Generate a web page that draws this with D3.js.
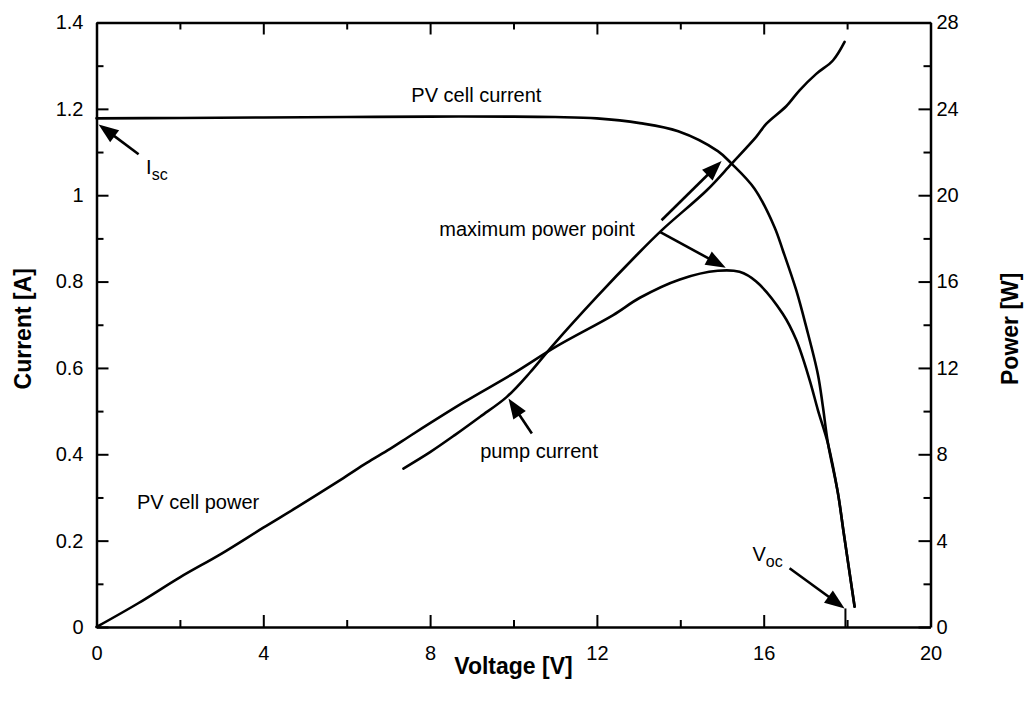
<!DOCTYPE html>
<html>
<head>
<meta charset="utf-8">
<script src="https://cdn.jsdelivr.net/npm/d3@7"></script>
<style>
  html, body { margin: 0; padding: 0; background: #fff; }
  svg { display: block; font-family: "Liberation Sans", Arial, Helvetica, sans-serif; }
</style>
</head>
<body>
<svg id="chart" width="1027" height="707"></svg>
<script>
// ---------- data ----------
// PV cell current (left axis, A) vs voltage (V)
const voltageCell = [0, 2, 4, 6, 8, 10, 11, 12, 13.03, 13.95, 14.9, 15.23, 15.78, 16.26, 16.46, 16.78, 17.02, 17.3, 17.42, 17.54, 17.78, 17.92, 18.18];
const currentCell = [1.178, 1.179, 1.18, 1.181, 1.182, 1.182, 1.181, 1.178, 1.167, 1.148, 1.102, 1.073, 1.015, 0.926, 0.872, 0.78, 0.695, 0.585, 0.51, 0.426, 0.31, 0.217, 0.047];

// PV cell power (right axis, W) vs voltage (V)
const voltagePower = [0, 1.0, 2.0, 3.0, 4.0, 4.81, 5.92, 6.48, 7.04, 7.6, 8.8, 10.0, 11.03, 12.39, 13.03, 13.99, 14.9, 15.42, 15.82, 16.46, 16.78, 17.1, 17.3, 17.54, 17.78, 17.92, 18.18];
const powerCell = [0, 1.1, 2.3, 3.4, 4.6, 5.55, 6.9, 7.6, 8.25, 8.95, 10.4, 11.75, 13.0, 14.45, 15.25, 16.1, 16.5, 16.45, 16.0, 14.5, 13.3, 11.45, 10.05, 8.5, 6.2, 4.34, 0.94];

// pump current (left axis, A) vs voltage (V)
const voltagePump = [7.36, 8.0, 8.6, 9.2, 9.84, 10.4, 10.95, 11.99, 12.95, 13.59, 14.63, 15.23, 15.82, 16.06, 16.54, 16.86, 17.26, 17.66, 17.94];
const currentPump = [0.367, 0.405, 0.445, 0.487, 0.533, 0.59, 0.653, 0.764, 0.861, 0.922, 1.011, 1.073, 1.135, 1.165, 1.206, 1.243, 1.281, 1.312, 1.355];

// ticks
const xTicks = [0, 4, 8, 12, 16, 20];
const xMinorTicks = [2, 6, 10, 14, 18];
const yLeftTicks = [0, 0.2, 0.4, 0.6, 0.8, 1, 1.2, 1.4];
const yLeftMinorTicks = [0.1, 0.3, 0.5, 0.7, 0.9, 1.1, 1.3];
const yRightTicks = [0, 4, 8, 12, 16, 20, 24, 28];
const yRightMinorTicks = [2, 6, 10, 14, 18, 22, 26];

// axis titles
const xTitle = "Voltage [V]";
const yLeftTitle = "Current [A]";
const yRightTitle = "Power [W]";

// annotation labels, in data units (voltage, current)
const labelText = ["PV cell current", "maximum power point", "pump current", "PV cell power"];
const labelV = [7.55, 8.22, 9.2, 0.97];
const labelI = [1.215, 0.905, 0.391, 0.273];

// arrows: tail (V, I) -> tip (V, I)
const arrowTailV = [1.01, 13.55, 13.51, 10.44, 16.62];
const arrowTailI = [1.095, 0.942, 0.915, 0.448, 0.136];
const arrowTipV = [0.05, 14.99, 15.09, 9.88, 17.94];
const arrowTipI = [1.164, 1.079, 0.832, 0.529, 0.043];

// ---------- layout ----------
const svg = d3.select("#chart");
const L = 96.5, R = 930.5, T = 22.5, B = 627;

const x = d3.scaleLinear().domain([0, 20]).range([L, R]);
const yL = d3.scaleLinear().domain([0, 1.4]).range([B, T]);
const yR = d3.scaleLinear().domain([0, 28]).range([B, T]);

const fmtLeft = d => String(+d.toFixed(1));

function styleAxis(g) {
  g.select(".domain").attr("stroke", "#000").attr("stroke-width", 2.5);
  g.selectAll(".tick line").attr("stroke", "#000").attr("stroke-width", 2);
  g.selectAll(".tick text").attr("fill", "#000").attr("font-size", 20)
    .attr("font-family", "'Liberation Sans', Arial, Helvetica, sans-serif");
}
function minorStyle(g) {
  g.select(".domain").remove();
  g.selectAll(".tick line").attr("stroke", "#000").attr("stroke-width", 2);
}

// bottom axis
const gB = svg.append("g").attr("transform", `translate(0,${B})`)
  .call(d3.axisBottom(x).tickValues(xTicks).tickSize(-12).tickSizeOuter(0).tickPadding(19).tickFormat(d3.format("d")));
styleAxis(gB);
svg.append("g").attr("transform", `translate(0,${B})`)
  .call(d3.axisBottom(x).tickValues(xMinorTicks).tickSize(-7).tickSizeOuter(0).tickFormat(""))
  .call(minorStyle);

// top axis (no labels)
const gT = svg.append("g").attr("transform", `translate(0,${T})`)
  .call(d3.axisTop(x).tickValues(xTicks).tickSize(-12).tickSizeOuter(0).tickFormat(""));
styleAxis(gT);
svg.append("g").attr("transform", `translate(0,${T})`)
  .call(d3.axisTop(x).tickValues(xMinorTicks).tickSize(-7).tickSizeOuter(0).tickFormat(""))
  .call(minorStyle);

// left axis
const gL = svg.append("g").attr("transform", `translate(${L},0)`)
  .call(d3.axisLeft(yL).tickValues(yLeftTicks).tickSize(-12).tickSizeOuter(0).tickPadding(13).tickFormat(fmtLeft));
styleAxis(gL);
svg.append("g").attr("transform", `translate(${L},0)`)
  .call(d3.axisLeft(yL).tickValues(yLeftMinorTicks).tickSize(-7).tickSizeOuter(0).tickFormat(""))
  .call(minorStyle);

// right axis
const gR = svg.append("g").attr("transform", `translate(${R},0)`)
  .call(d3.axisRight(yR).tickValues(yRightTicks).tickSize(-12).tickSizeOuter(0).tickPadding(6).tickFormat(d3.format("d")));
styleAxis(gR);
svg.append("g").attr("transform", `translate(${R},0)`)
  .call(d3.axisRight(yR).tickValues(yRightMinorTicks).tickSize(-7).tickSizeOuter(0).tickFormat(""))
  .call(minorStyle);

// axis titles
svg.append("text").attr("x", (L + R) / 2).attr("y", 674).attr("text-anchor", "middle")
  .attr("font-size", 23).attr("font-weight", "bold").text(xTitle);
svg.append("text").attr("transform", `translate(31,${(T + B) / 2 + 4}) rotate(-90)`).attr("text-anchor", "middle")
  .attr("font-size", 23).attr("font-weight", "bold").text(yLeftTitle);
svg.append("text").attr("transform", `translate(1018,${(T + B) / 2 + 4}) rotate(-90)`).attr("text-anchor", "middle")
  .attr("font-size", 23).attr("font-weight", "bold").text(yRightTitle);

// curves
const lineL = d3.line().x(d => x(d[0])).y(d => yL(d[1])).curve(d3.curveCatmullRom.alpha(0.5));
const lineR = d3.line().x(d => x(d[0])).y(d => yR(d[1])).curve(d3.curveCatmullRom.alpha(0.5));

const curveStyle = p => p.attr("fill", "none").attr("stroke", "#000").attr("stroke-width", 2.6)
  .attr("stroke-linejoin", "round").attr("stroke-linecap", "round");

svg.append("path").datum(d3.zip(voltageCell, currentCell)).attr("d", lineL).call(curveStyle);
svg.append("path").datum(d3.zip(voltagePower, powerCell)).attr("d", lineR).call(curveStyle);
svg.append("path").datum(d3.zip(voltagePump, currentPump)).attr("d", lineL).call(curveStyle);

// arrows
const arrows = d3.zip(arrowTailV, arrowTailI, arrowTipV, arrowTipI);
const headLen = 20, headW = 7.5;
const ga = svg.append("g");
arrows.forEach(([tv, ti, hv, hi]) => {
  const x1 = x(tv), y1 = yL(ti), x2 = x(hv), y2 = yL(hi);
  const dx = x2 - x1, dy = y2 - y1, len = Math.hypot(dx, dy);
  const ux = dx / len, uy = dy / len;
  const bx = x2 - ux * headLen, by = y2 - uy * headLen;
  ga.append("line").attr("x1", x1).attr("y1", y1).attr("x2", bx + ux * 2).attr("y2", by + uy * 2)
    .attr("stroke", "#000").attr("stroke-width", 2.6);
  ga.append("polygon")
    .attr("points", [[x2, y2], [bx - uy * headW, by + ux * headW], [bx + uy * headW, by - ux * headW]].map(p => p.join(",")).join(" "))
    .attr("fill", "#000");
});
// short mark from the V_oc arrow down to the axis
svg.append("line").attr("x1", x(17.96)).attr("y1", yL(0.043)).attr("x2", x(17.96)).attr("y2", yL(0))
  .attr("stroke", "#000").attr("stroke-width", 2);

// annotation labels
d3.zip(labelText, labelV, labelI).forEach(([t, v, i]) => {
  svg.append("text").attr("x", x(v)).attr("y", yL(i)).attr("font-size", 20).attr("fill", "#000").text(t);
});

// I_sc and V_oc labels with subscripts
const isc = svg.append("text").attr("x", x(1.19)).attr("y", yL(1.05)).attr("font-size", 20);
isc.append("tspan").text("I");
isc.append("tspan").attr("dy", 6).attr("font-size", 16).text("sc");

const voc = svg.append("text").attr("x", x(15.73)).attr("y", yL(0.153)).attr("font-size", 20);
voc.append("tspan").text("V");
voc.append("tspan").attr("dy", 6).attr("font-size", 16).text("oc");
</script>
</body>
</html>
